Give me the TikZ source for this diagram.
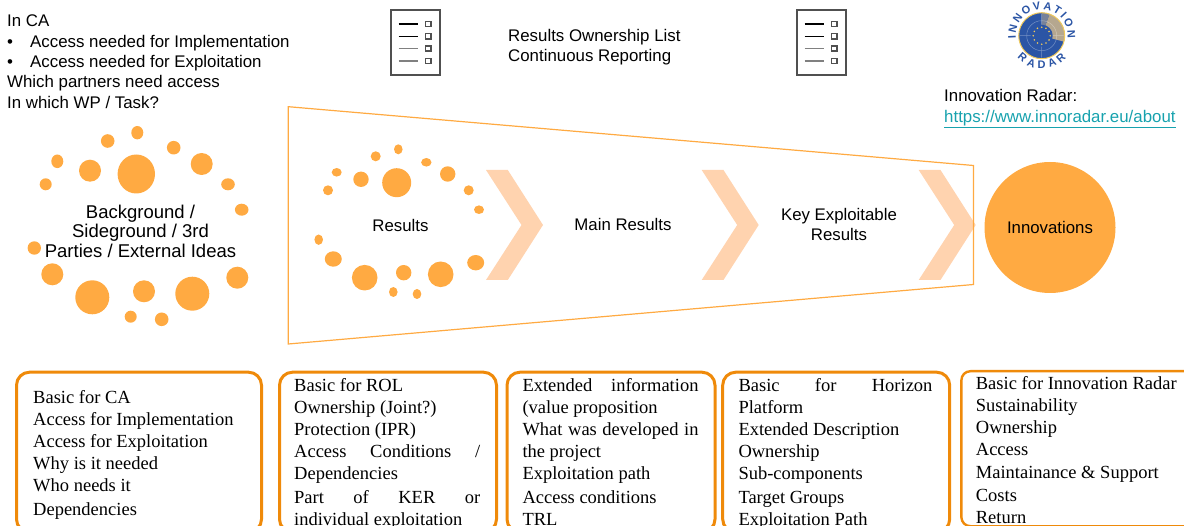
\documentclass[tikz,border=0pt]{standalone}
\usepackage{fontspec}
\setmainfont{Liberation Serif}
\setsansfont{Liberation Sans}
\usepackage{xcolor}
\usepackage{tikz}
\usetikzlibrary{decorations.text}

\definecolor{dotorange}{HTML}{FFAA42}
\definecolor{chevronpeach}{HTML}{FFD3AF}
\definecolor{boxorange}{HTML}{EF8A0A}
\definecolor{linkteal}{HTML}{17A2AE}
\definecolor{radarblue}{HTML}{2B55A5}
\definecolor{radartan}{HTML}{B5A78F}
\definecolor{radargold}{HTML}{F0C95A}
\definecolor{icondark}{HTML}{505050}

\newcommand{\fillline}[2]{\makebox[#1pt][s]{#2}}

\tikzset{
    sanslabel/.style={font=\sffamily\fontsize{16.85}{20.3}\selectfont, align=left, inner sep=0pt, anchor=north west},
    midlabel/.style={font=\sffamily\fontsize{16.8}{20}\selectfont, align=center, inner sep=0pt},
    infobox/.style={draw=boxorange, line width=3pt, rounded corners=13pt, anchor=north west, inner sep=0pt, minimum height=160pt},
    infotext/.style={font=\rmfamily\fontsize{18.5}{22}\selectfont, align=left, inner sep=0pt, anchor=north west},
    listicon/.pic={
        \draw[icondark, line width=1.2pt] (0,0) rectangle (49,-65);
        \foreach \iy/\ic/\iw in {14/black/1.1, 26.3/black/1.1, 38.7/gray/1.5, 51/gray/1.8} {
            \draw[\ic, line width=\iw pt] (7.7,-\iy) -- (26.7,-\iy);
            \draw[icondark, line width=1.6pt] (34.6,-\iy+2.6) rectangle (40,-\iy-2.6);
        }
    }
}

\begin{document}
\begin{tikzpicture}[x=1pt, y=1pt]
    \path[use as bounding box, clip] (0,0) rectangle (1184,-526);

    \node[sanslabel] (inca) at (7,-15) {In CA\\
        \makebox[23pt][l]{•}Access needed for Implementation\\
        \makebox[23pt][l]{•}Access needed for Exploitation\\
        Which partners need access\\
        In which WP / Task?};

    \path (391,-10) pic {listicon};
    \path (797,-10) pic {listicon};
    \node[sanslabel] (rol) at (508,-29) {Results Ownership List\\Continuous Reporting};

    \begin{scope}[shift={(1041.7,-35.7)}]
        \fill[radarblue] (0,0) circle (23);
        \fill[radartan] (0,0) -- (70:23) arc (70:-15:23) -- cycle;
        \fill[radartan!55!radarblue] (0,0) -- (90:23) arc (90:70:23) -- cycle;
        \draw[radargold, line width=1pt] (0,0) circle (23);
        \draw[white, opacity=0.35, line width=0.5pt] (0,0) circle (15) (-22,0) -- (22,0) (0,-22) -- (0,22);
        \fill[radarblue] (0,0) circle (11);
        \foreach \ang in {0,30,...,330}
            \fill[radargold] (\ang:8.5) circle (0.9);
        \path[decorate, decoration={text along path, text align={fit to path},
            text={|\sffamily\bfseries\fontsize{11}{11}\selectfont\color{radarblue}|INNOVATION}}]
            (186:26) arc (186:-6:26);
        \path[decorate, decoration={text along path, text align={fit to path},
            text={|\sffamily\bfseries\fontsize{11}{11}\selectfont\color{radarblue}|RADAR}}]
            (222:33) arc (222:318:33);
    \end{scope}
    \node[sanslabel] (radar) at (944,-89.5) {Innovation Radar:\\\textcolor{linkteal}{\underline{https://www.innoradar.eu/about}}};

    \foreach \px/\py/\rx/\ry in {136.3/174/18.7/19.5, 90/170.7/11/11, 107.7/141/6.8/6.8, 137.3/132.7/6/6.7,
        173.7/147.7/6.8/6.8, 201.7/164/11/11, 228/184.3/6.8/6, 241.7/209.7/6.8/6, 57.3/161.3/6/6.8,
        45.7/184.3/6/6, 34.3/248/6.7/6.7, 52.3/274.3/11/11, 92.3/297.3/17/17, 144/291.3/11/11,
        192.3/293.7/17/17, 237.3/277.7/11/11, 130.7/316.7/6/6, 161.7/319.3/6.8/6.8}
        \fill[dotorange] (\px,-\py) ellipse [x radius=\rx, y radius=\ry];

    \node[midlabel, font=\sffamily\fontsize{18.5}{19.5}\selectfont] (background) at (140.5,-231) {Background /\\Sideground / 3rd\\Parties / External Ideas};

    \foreach \px/\py/\rx/\ry in {396.7/182.7/14.5/14.5, 361/179.3/7.7/7.7, 375.7/156.3/5/5, 398.3/149.3/4.3/5,
        426.3/162.3/5.2/4.3, 447.7/174/7.7/7.7, 468.7/190.3/5/5, 479/209.7/5/4.3, 336.7/172.3/5/4.3,
        328/190.3/5/5, 318.7/239.7/4.3/5.2, 333.3/259/8.5/7.7, 364.7/277.7/12.8/12.8, 403.7/272.7/7.7/7.7,
        440.7/274.3/12.8/12.8, 475.7/262.7/8.5/7.7, 393.3/292/4.3/5, 417/294/4.3/5}
        \fill[dotorange] (\px,-\py) ellipse [x radius=\rx, y radius=\ry];

    \foreach \cx in {486, 701.7, 918.7}
        \fill[chevronpeach] (\cx,-170) -- (\cx+21.8,-170) -- (\cx+57,-225) -- (\cx+21.8,-280) -- (\cx,-280) -- (\cx+35.5,-225) -- cycle;

    \draw[dotorange, line width=1.2pt] (288.3,-106.7) -- (973.5,-165.5) -- (973.5,-284.5) -- (288.3,-344) -- cycle;

    \node[midlabel] (results) at (400.5,-225.5) {Results};
    \node[midlabel] (mainresults) at (623,-224) {Main Results};
    \node[midlabel] (ker) at (839,-224.5) {Key Exploitable\\Results};
    \node[midlabel, circle, fill=dotorange, minimum size=131pt] (innovations) at (1050,-227.5) {Innovations};

    \node[infobox, minimum width=245pt] (boxca) at (15,-370.7) {};
    \node[infobox, minimum width=217pt] (boxrol) at (278,-370.7) {};
    \node[infobox, minimum width=208pt] (boxmain) at (505.5,-370.7) {};
    \node[infobox, minimum width=227pt] (boxker) at (721.2,-370.7) {};
    \node[infobox, line width=2.4pt, minimum width=240pt, minimum height=155pt, rounded corners=9pt] (boxinnov) at (960.2,-370) {};

    \node[infotext] (textca) at (33,-390.5) {Basic for CA\\Access for Implementation\\Access for Exploitation\\Why is it needed\\Who needs it\\[2pt]Dependencies};
    \node[infotext] (textrol) at (294,-378) {Basic for ROL\\Ownership (Joint?)\\Protection (IPR)\\\fillline{186}{Access Conditions /}\\Dependencies\\[2pt]\fillline{186}{Part of KER or}\\individual exploitation};
    \node[infotext] (textmain) at (522.3,-378) {\fillline{176}{Extended information}\\(value proposition\\\fillline{176}{What was developed in}\\the project\\Exploitation path\\[2pt]Access conditions\\TRL};
    \node[infotext] (textker) at (738.3,-378) {\fillline{194}{Basic for Horizon}\\Platform\\Extended Description\\Ownership\\Sub-components\\[2pt]Target Groups\\Exploitation Path};
    \node[infotext] (textinnov) at (975.7,-376) {Basic for Innovation Radar\\Sustainability\\Ownership\\Access\\[1pt]Maintainance \& Support\\[1pt]Costs\\Return};
\end{tikzpicture}
\end{document}
